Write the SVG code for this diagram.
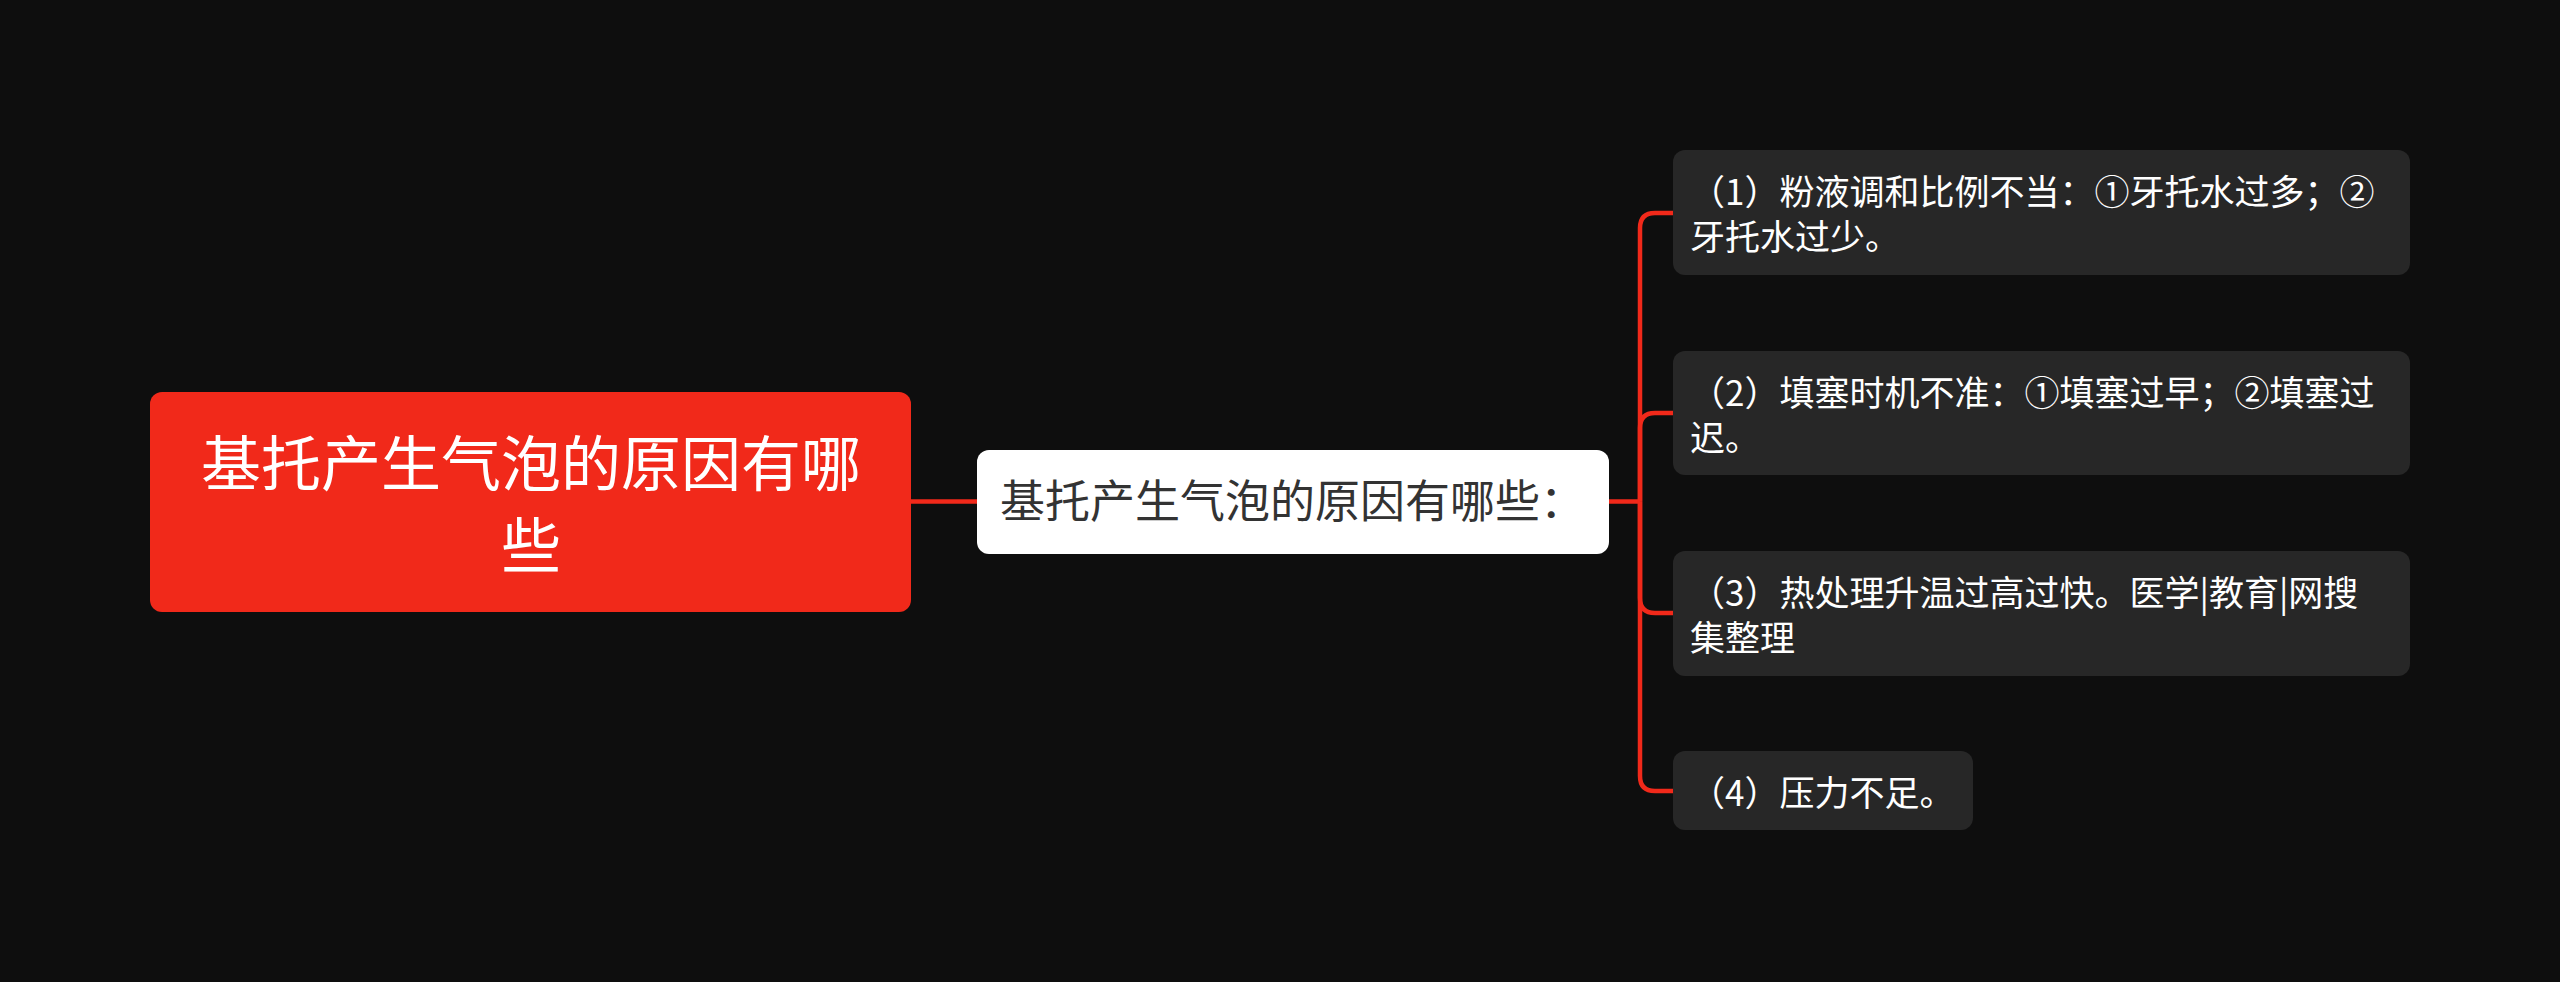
<svg xmlns="http://www.w3.org/2000/svg" width="2560" height="982" viewBox="0 0 2560 982">
<style>
.bg{fill:#0e0e0e}
.root{fill:#f1291a}
.mid{fill:#ffffff}
.leaf{fill:#272727}
.t{font-family:"Microsoft YaHei","Noto Sans CJK SC","Noto Sans",sans-serif}
.rt{font-size:60px;fill:#ffffff;text-anchor:middle}
.mt{font-size:45px;fill:#333333}
.lt{font-size:35px;fill:#ffffff}
.c{fill:none;stroke:#f1291a;stroke-width:4.5}
</style>
<rect class="bg" x="0" y="0" width="2560" height="982"/>
<g id="connectors">
<path class="c" d="M911 501.5 H977"/>
<path class="c" d="M1609 501.5 H1640"/>
<path class="c" d="M1640 501.5 V228 Q1640 213 1655 213 H1673"/>
<path class="c" d="M1640 501.5 V428 Q1640 413 1655 413 H1673"/>
<path class="c" d="M1640 501.5 V598 Q1640 613 1655 613 H1673"/>
<path class="c" d="M1640 501.5 V776 Q1640 791 1655 791 H1673"/>
</g>
<g id="root">
<rect class="root" x="150" y="392" width="761" height="220" rx="12"/>
<text class="t rt" x="531" y="486">基托产生气泡的原因有哪</text>
<text class="t rt" x="531" y="568">些</text>
</g>
<g id="middle">
<rect class="mid" x="977" y="450" width="632" height="104" rx="12"/>
<text class="t mt" x="1000" y="518">基托产生气泡的原因有哪些：</text>
</g>
<g id="leaf1">
<rect class="leaf" x="1673" y="150" width="737" height="125" rx="12"/>
<text class="t lt" x="1690" y="205">（1）粉液调和比例不当：①牙托水过多；②</text>
<text class="t lt" x="1690" y="250">牙托水过少。</text>
</g>
<g id="leaf2">
<rect class="leaf" x="1673" y="351" width="737" height="124" rx="12"/>
<text class="t lt" x="1690" y="406">（2）填塞时机不准：①填塞过早；②填塞过</text>
<text class="t lt" x="1690" y="451">迟。</text>
</g>
<g id="leaf3">
<rect class="leaf" x="1673" y="551" width="737" height="125" rx="12"/>
<text class="t lt" x="1690" y="606">（3）热处理升温过高过快。医学|教育|网搜</text>
<text class="t lt" x="1690" y="651">集整理</text>
</g>
<g id="leaf4">
<rect class="leaf" x="1673" y="751" width="300" height="79" rx="12"/>
<text class="t lt" x="1690" y="806">（4）压力不足。</text>
</g>
</svg>
